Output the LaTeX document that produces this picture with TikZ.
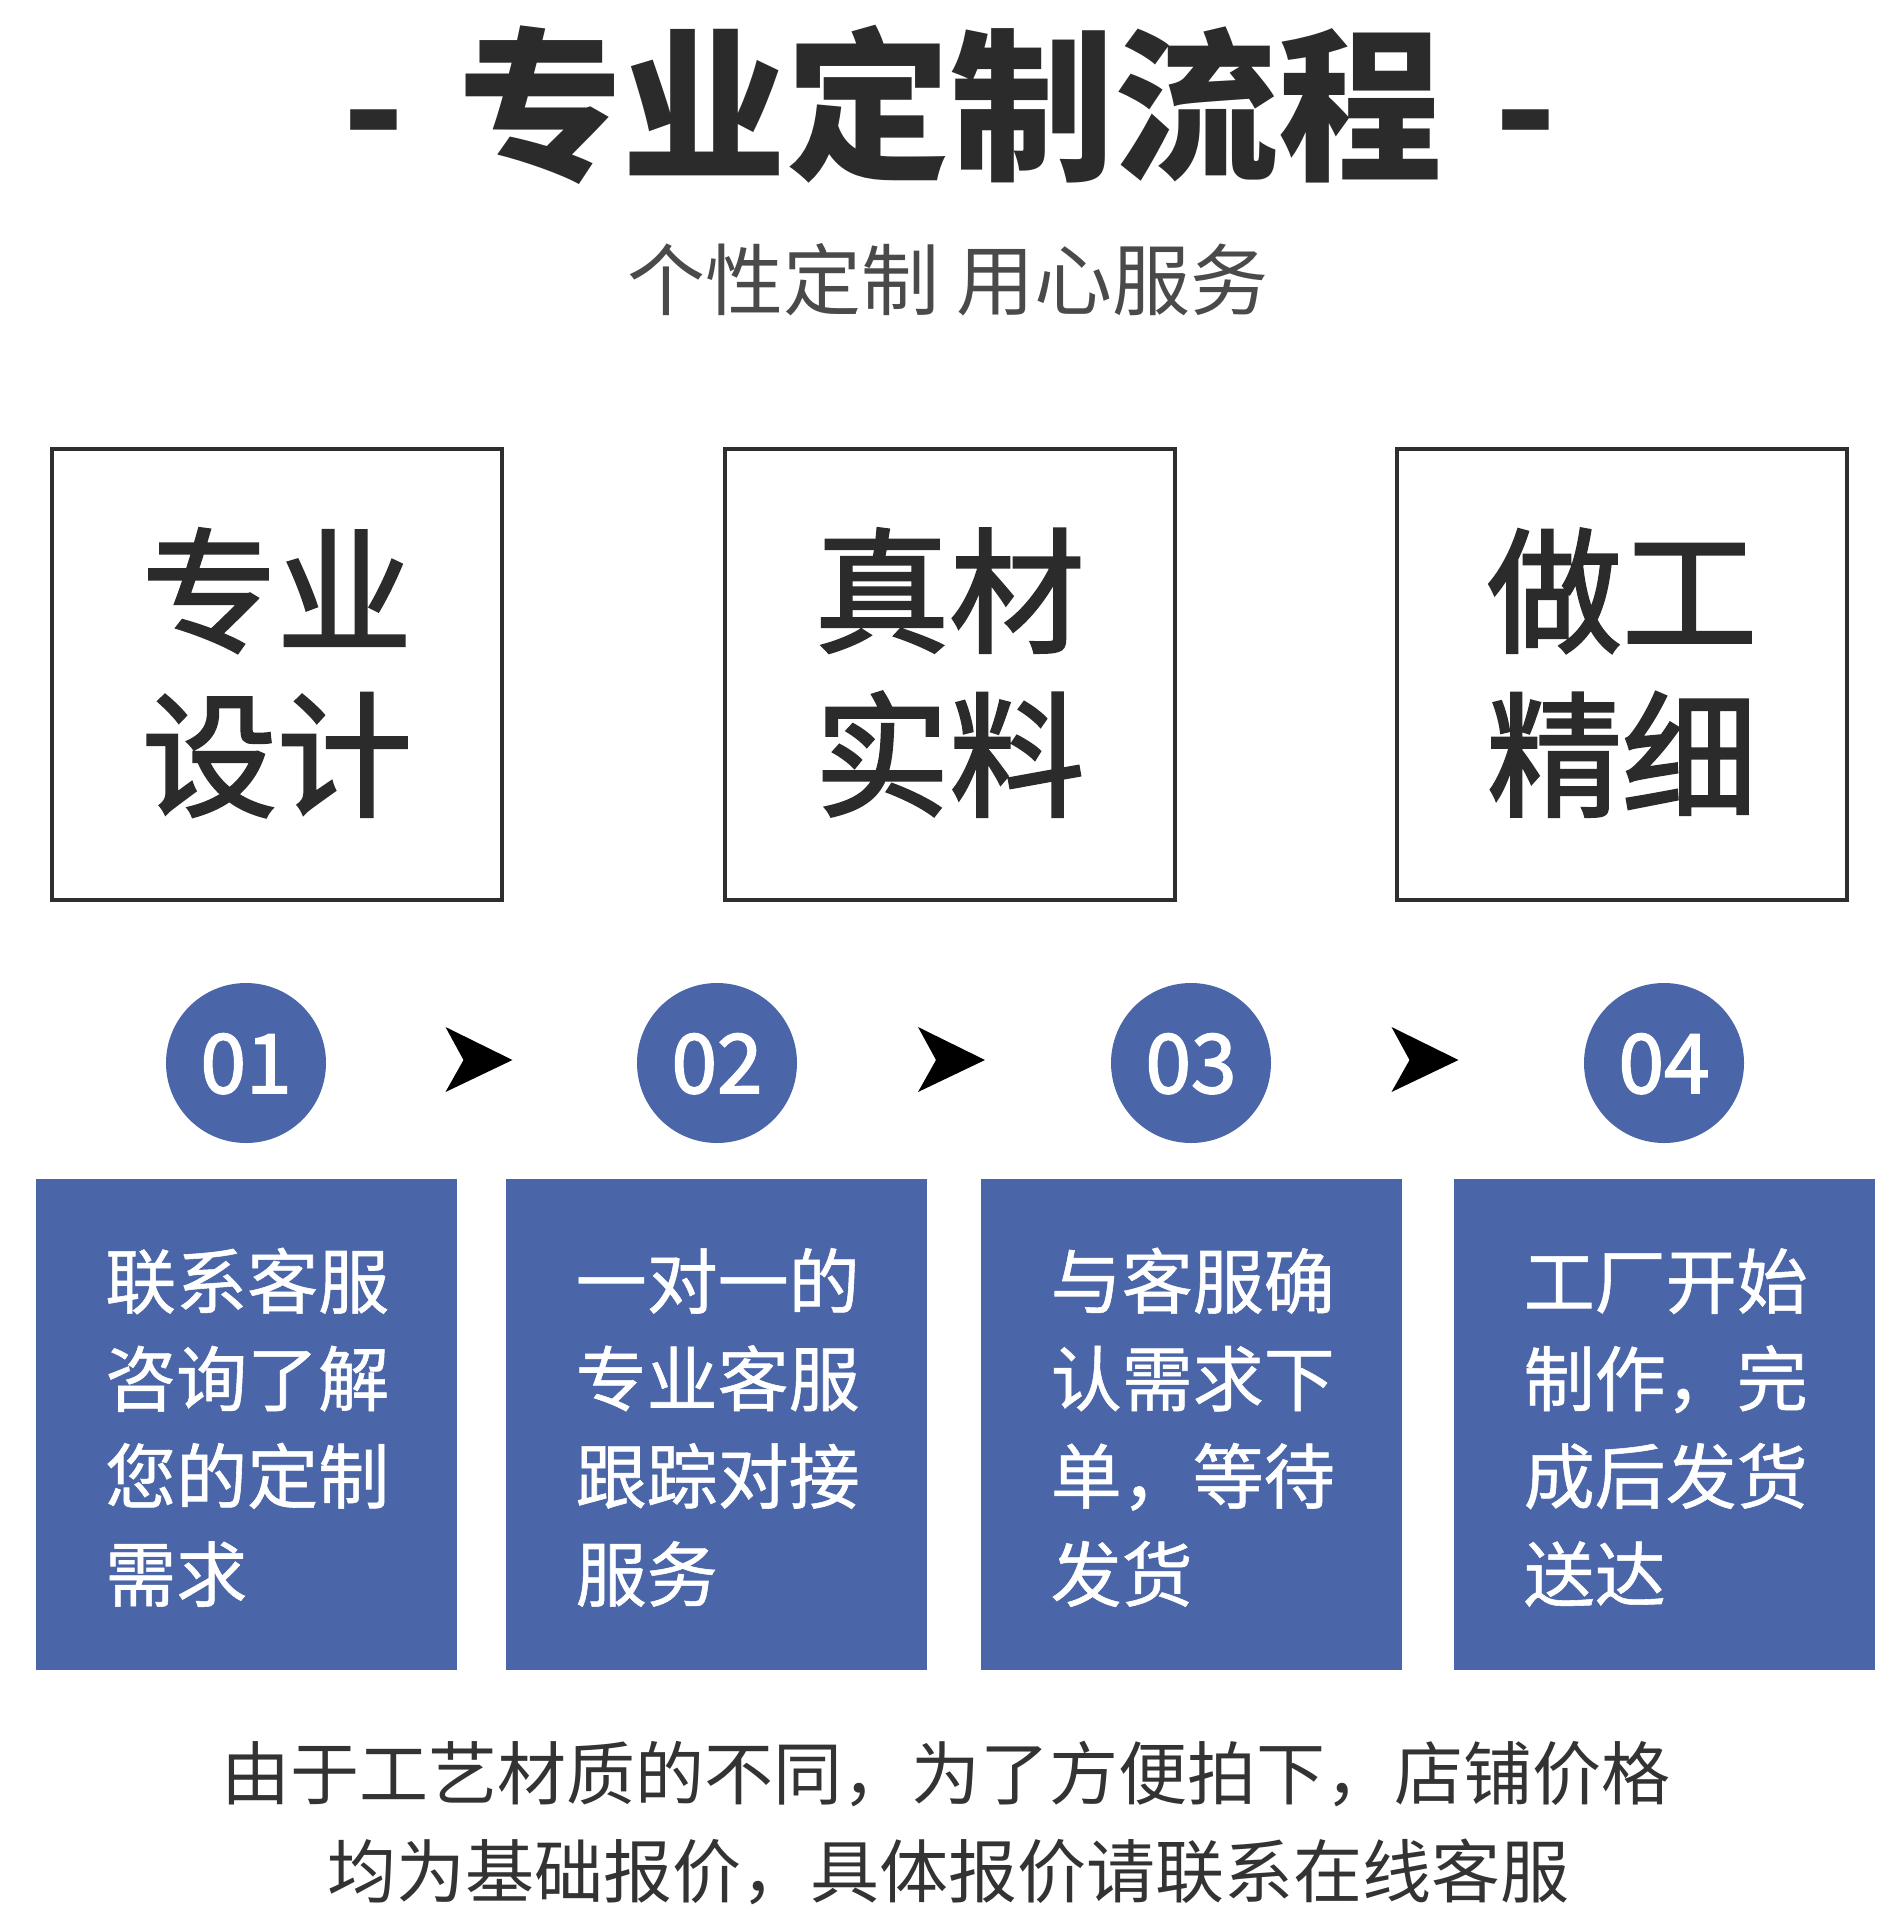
\documentclass[tikz,border=0pt]{standalone}
\usepackage{fontspec}
\newfontfamily\cjk{Noto Sans CJK SC}
\newfontfamily\cjkmed[FakeBold=2]{Noto Sans CJK SC}
\newfontfamily\cjkmid[FakeBold=0.8]{Noto Sans CJK SC}
\usetikzlibrary{calc}
\definecolor{stepblue}{HTML}{4A66A9}
\definecolor{ink}{HTML}{2B2B2B}
\definecolor{subink}{HTML}{4A4A4A}
\definecolor{boxline}{HTML}{2E2E2E}
\definecolor{noteink}{HTML}{333333}
\tikzset{
  titletxt/.style={anchor=base, inner sep=0pt, text=ink, font=\cjk\bfseries\fontsize{164}{164}\selectfont},
  subtxt/.style={anchor=base, inner sep=0pt, text=subink, font=\cjk\fontsize{78}{78}\selectfont},
  outbox/.style={draw=boxline, line width=4pt, fill=none, minimum width=450pt, minimum height=451pt, inner sep=0pt},
  boxtxt/.style={anchor=base, inner sep=0pt, text=ink, font=\cjkmed\fontsize{135}{135}\selectfont},
  circ/.style={circle, fill=stepblue, minimum size=160pt, inner sep=0pt, text=white, font=\cjkmed\fontsize{82}{82}\selectfont, text height=60pt, text depth=0pt},
  stepbox/.style={fill=stepblue, minimum width=421pt, minimum height=491pt, inner sep=0pt},
  steptxt/.style={anchor=base west, inner sep=0pt, text=white, font=\cjkmid\fontsize{71}{71}\selectfont},
  notetxt/.style={anchor=base, inner sep=0pt, text=noteink, font=\cjk\fontsize{69}{69}\selectfont},
  chev/.pic={\fill[black] (31,-3) -- (-36,-36) -- (-18,-3) -- (-36,29) -- cycle;}
}
\newcommand\boxlabel[3]{%
  \node[boxtxt] (#1-a) at ($(#1.center)+(0,-32.5)$) {#2};
  \node[boxtxt] (#1-b) at ($(#1.center)+(0,131.5)$) {#3};
}
\newcommand\steplabel[5]{%
  \node[steptxt] (#1-a) at ($(#1.center)+(-141,-116.5)$) {#2};
  \node[steptxt] (#1-b) at ($(#1.center)+(-141,-19)$) {#3};
  \node[steptxt] (#1-c) at ($(#1.center)+(-141,78.5)$) {#4};
  \node[steptxt] (#1-d) at ($(#1.center)+(-141,176.5)$) {#5};
}
\begin{document}
\begin{tikzpicture}[x=1pt,y=-1pt]
\useasboundingbox (0,0) rectangle (1902,1920);
\fill[white] (0,0) rectangle (1902,1920);

% title
\node[titletxt] (title) at (950,167) {-\hspace{0.32em}专业定制流程\hspace{0.32em}-};
\node[subtxt] (subtitle) at (948,309) {个性定制 用心服务};

% outline boxes
\node[outbox] (box1) at (277,674.5) {};
\node[outbox] (box2) at (949.5,674.5) {};
\node[outbox] (box3) at (1622,674.5) {};
\boxlabel{box1}{专业}{设计}
\boxlabel{box2}{真材}{实料}
\boxlabel{box3}{做工}{精细}

% circles
\node[circ] (c1) at (246,1063) {01};
\node[circ] (c2) at (717,1063) {02};
\node[circ] (c3) at (1191,1063) {03};
\node[circ] (c4) at (1664,1063) {04};
\path (c1) -- (c2) pic[pos=0.5]{chev};
\path (c2) -- (c3) pic[pos=0.5]{chev};
\path (c3) -- (c4) pic[pos=0.5]{chev};

% step boxes
\node[stepbox] (s1) at (246,1424.5) {};
\node[stepbox] (s2) at (716.5,1424.5) {};
\node[stepbox] (s3) at (1191.5,1424.5) {};
\node[stepbox] (s4) at (1664.5,1424.5) {};
\steplabel{s1}{联系客服}{咨询了解}{您的定制}{需求}
\steplabel{s2}{一对一的}{专业客服}{跟踪对接}{服务}
\steplabel{s3}{与客服确}{认需求下}{单，等待}{发货}
\steplabel{s4}{工厂开始}{制作，完}{成后发货}{送达}

% notes
\node[notetxt] (n1) at (946,1799) {由于工艺材质的不同，为了方便拍下，店铺价格};
\node[notetxt] (n2) at (948,1897) {均为基础报价，具体报价请联系在线客服};
\end{tikzpicture}
\end{document}
